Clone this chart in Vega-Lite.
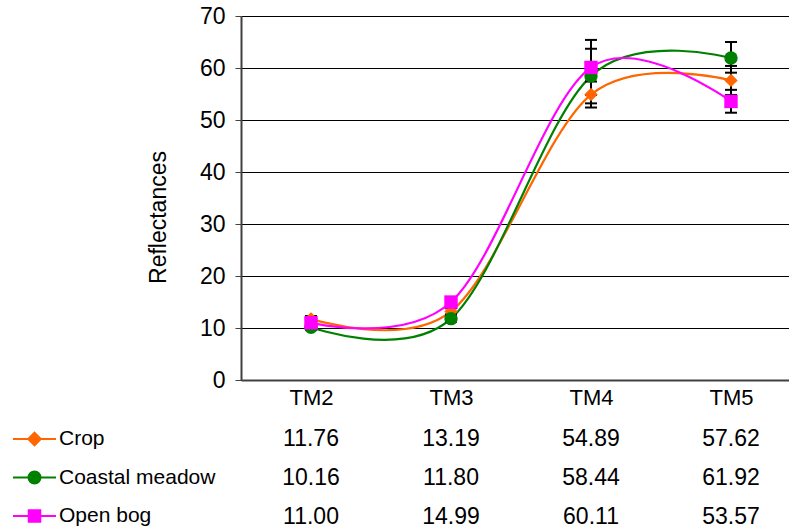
{
  "$schema": "https://vega.github.io/schema/vega-lite/v6.json",
  "padding": {"left": 21, "top": 5, "right": 0, "bottom": 0},
  "autosize": {"type": "pad"},
  "background": "white",
  "config": {
    "font": "Liberation Sans",
    "view": {"stroke": null},
    "axis": {"labelFont": "Liberation Sans", "titleFont": "Liberation Sans", "labelColor": "black", "titleColor": "black"}
  },
  "datasets": {
    "d": [
      {"band": "TM2", "series": "Crop", "value": 11.76, "lo": 11.2, "hi": 12.3},
      {"band": "TM3", "series": "Crop", "value": 13.19, "lo": 12.6, "hi": 13.8},
      {"band": "TM4", "series": "Crop", "value": 54.89, "lo": 52.4, "hi": 57.4},
      {"band": "TM5", "series": "Crop", "value": 57.62, "lo": 54.8, "hi": 60.4},
      {"band": "TM2", "series": "Coastal meadow", "value": 10.16, "lo": 9.6, "hi": 10.7},
      {"band": "TM3", "series": "Coastal meadow", "value": 11.80, "lo": 11.2, "hi": 12.4},
      {"band": "TM4", "series": "Coastal meadow", "value": 58.44, "lo": 53.2, "hi": 63.7},
      {"band": "TM5", "series": "Coastal meadow", "value": 61.92, "lo": 59.1, "hi": 65.0},
      {"band": "TM2", "series": "Open bog", "value": 11.00, "lo": 10.4, "hi": 11.6},
      {"band": "TM3", "series": "Open bog", "value": 14.99, "lo": 14.4, "hi": 15.6},
      {"band": "TM4", "series": "Open bog", "value": 60.11, "lo": 54.8, "hi": 65.4},
      {"band": "TM5", "series": "Open bog", "value": 53.57, "lo": 51.4, "hi": 55.8}
    ]
  },
  "bounds": "flush",
  "spacing": 39,
  "resolve": {"legend": {"color": "independent"}},
  "vconcat": [
    {
      "width": 560,
      "height": 364,
      "data": {"name": "d"},
      "encoding": {
        "x": {
          "field": "band", "type": "nominal",
          "scale": {"type": "point", "padding": 0.5},
          "axis": {"title": null, "labelAngle": 0, "labelFontSize": 22, "labelPadding": 7, "ticks": false, "domainColor": "#404040", "domainWidth": 2, "grid": false}
        }
      },
      "layer": [
        {
          "mark": {"type": "line", "interpolate": "cardinal", "strokeWidth": 2.2},
          "encoding": {
            "y": {"field": "value", "type": "quantitative"},
            "color": {"field": "series", "type": "nominal", "scale": {"domain": ["Crop", "Coastal meadow", "Open bog"], "range": ["#FF6600", "#008000", "#FF00FF"]}},
            "order": {"field": "band"}
          }
        },
        {
          "mark": {"type": "rule", "color": "black", "strokeWidth": 2},
          "encoding": {
            "y": {"field": "lo", "type": "quantitative"},
            "y2": {"field": "hi"}
          }
        },
        {
          "mark": {"type": "tick", "orient": "horizontal", "color": "black", "thickness": 2, "size": 12, "opacity": 1},
          "encoding": {"y": {"field": "lo", "type": "quantitative"}}
        },
        {
          "mark": {"type": "tick", "orient": "horizontal", "color": "black", "thickness": 2, "size": 12, "opacity": 1},
          "encoding": {"y": {"field": "hi", "type": "quantitative"}}
        },
        {
          "mark": {"type": "point", "filled": true, "opacity": 1, "size": 180},
          "encoding": {
            "y": {
              "field": "value", "type": "quantitative",
              "scale": {"domain": [0, 70], "nice": false},
              "axis": {
                "title": "Reflectances", "titleFontSize": 23, "titleFontWeight": "normal",
                "titleAngle": 270, "titleX": -83, "titleY": 201, "titleBaseline": "middle", "titleAlign": "center",
                "values": [0, 10, 20, 30, 40, 50, 60, 70],
                "labelFontSize": 23, "labelPadding": 10, "tickSize": 6, "tickColor": "#404040", "tickWidth": 1,
                "domainColor": "#404040", "domainWidth": 2,
                "grid": true, "gridColor": "black", "gridWidth": 1, "gridOpacity": 1
              }
            },
            "color": {
              "field": "series", "type": "nominal",
              "scale": {"domain": ["Crop", "Coastal meadow", "Open bog"], "range": ["#FF6600", "#008000", "#FF00FF"]},
              "legend": {
                "title": null, "orient": "none", "legendX": -220, "legendY": 409.5,
                "padding": 0, "offset": 0,
                "labelFontSize": 21, "labelFont": "Liberation Sans", "labelColor": "black", "labelOffset": 11,
                "symbolSize": 625, "rowPadding": 14.5, "symbolOpacity": 1,
                "encode": {
                  "symbols": {
                    "update": {
                      "shape": {"signal": "datum.value === 'Crop' ? 'M-1.72,0H1.72M0,-0.5L0.5,0L0,0.5L-0.5,0Z' : datum.value === 'Coastal meadow' ? 'M-1.72,0H1.72M-0.48,0A0.48,0.48,0,1,0,0.48,0A0.48,0.48,0,1,0,-0.48,0Z' : 'M-1.72,0H1.72M-0.46,-0.46H0.46V0.46H-0.46Z'"},
                      "stroke": {"scale": "color", "field": "value"},
                      "strokeWidth": {"value": 2},
                      "opacity": {"value": 1}
                    }
                  }
                }
              }
            },
            "shape": {
              "field": "series", "type": "nominal",
              "scale": {"domain": ["Crop", "Coastal meadow", "Open bog"], "range": ["diamond", "circle", "square"]},
              "legend": null
            }
          }
        }
      ]
    },
    {
      "width": 560,
      "height": 117,
      "data": {"name": "d"},
      "mark": {"type": "text", "fontSize": 23, "font": "Liberation Sans", "color": "black", "align": "center", "baseline": "middle"},
      "encoding": {
        "x": {"field": "band", "type": "nominal", "scale": {"type": "point", "padding": 0.5}, "axis": null},
        "y": {"field": "series", "type": "nominal", "scale": {"domain": ["Crop", "Coastal meadow", "Open bog"]}, "axis": null},
        "text": {"field": "value", "type": "quantitative", "format": ".2f"}
      }
    }
  ]
}
